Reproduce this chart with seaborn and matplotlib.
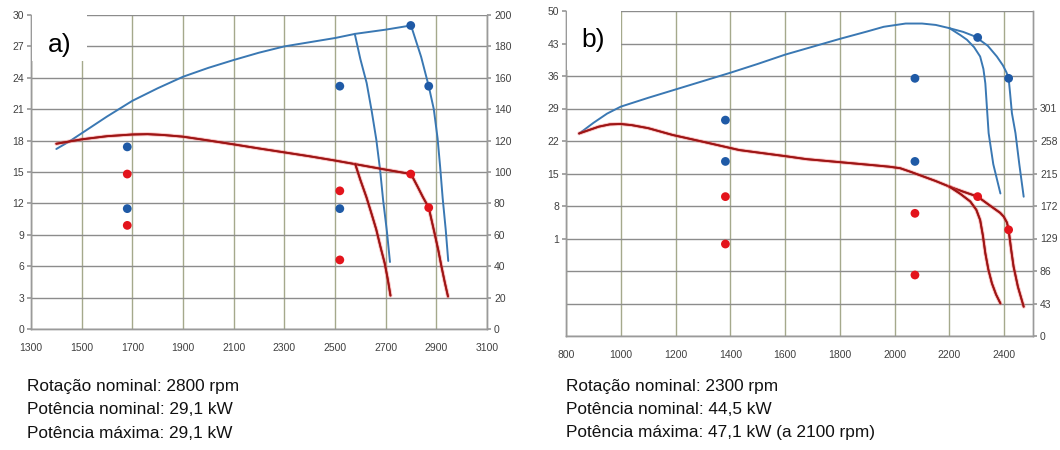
import matplotlib
matplotlib.use("Agg")
import matplotlib.pyplot as plt
import matplotlib.patheffects as pe
from matplotlib.patches import Rectangle
import seaborn as sns

# ---------------- data: panel a ----------------
a_pow_rpm = [1400, 1450, 1500, 1600, 1700, 1800, 1900, 2000, 2100, 2200, 2300, 2400, 2500, 2580, 2700, 2800]
a_pow_kw = [17.2, 17.9, 18.7, 20.3, 21.8, 23.0, 24.1, 24.95, 25.7, 26.4, 27.0, 27.4, 27.8, 28.2, 28.6, 29.0]
a_pow_drop1_rpm = [2800, 2840, 2870, 2890, 2905, 2915, 2925, 2937, 2947]
a_pow_drop1_kw = [29.0, 26.0, 23.2, 21.0, 18.2, 15.5, 12.5, 9.5, 6.5]
a_pow_drop2_rpm = [2578, 2600, 2625, 2645, 2663, 2678, 2690, 2705, 2717]
a_pow_drop2_kw = [28.2, 25.8, 23.5, 20.8, 18.1, 15.2, 12.3, 9.3, 6.4]

a_tq_rpm = [1400, 1500, 1600, 1700, 1760, 1820, 1900, 2000, 2100, 2200, 2300, 2400, 2500, 2580, 2700, 2800]
a_tq_nm = [118, 120.8, 122.8, 123.9, 124.1, 123.6, 122.5, 120.1, 117.6, 115.0, 112.5, 110, 107.3, 105, 101.5, 98.7]
a_tq_drop1_rpm = [2800, 2825, 2847, 2870, 2893, 2908, 2920, 2933, 2946]
a_tq_drop1_nm = [98.7, 91, 84, 77.3, 61, 50, 40, 30, 20.7]
a_tq_drop2_rpm = [2580, 2600, 2624, 2645, 2663, 2680, 2696, 2708, 2719]
a_tq_drop2_nm = [105, 95, 84, 73, 63.3, 52, 42, 32, 21.3]

a_blue_dot_rpm = [1680, 1680, 2519, 2519, 2799, 2870]
a_blue_dot_kw = [17.4, 11.5, 23.2, 11.5, 29.0, 23.2]
a_red_dot_rpm = [1680, 1680, 2519, 2519, 2799, 2870]
a_red_dot_nm = [98.7, 66, 88, 44, 98.7, 77.3]

a_xticks = [1300, 1500, 1700, 1900, 2100, 2300, 2500, 2700, 2900, 3100]
a_yticks_left = [0, 3, 6, 9, 12, 15, 18, 21, 24, 27, 30]
a_yticks_right = [0, 20, 40, 60, 80, 100, 120, 140, 160, 180, 200]

a_notes = ["Rotação nominal: 2800 rpm",
           "Potência nominal: 29,1 kW",
           "Potência máxima: 29,1 kW"]

# ---------------- data: panel b ----------------
b_pow_rpm = [848, 900, 950, 1000, 1100, 1200, 1300, 1400, 1500, 1600, 1700, 1800, 1900, 1960, 2040, 2100, 2150, 2200]
b_pow_kw = [23.6, 25.9, 27.9, 29.4, 31.3, 33.1, 34.9, 36.7, 38.6, 40.6, 42.3, 44.0, 45.6, 46.6, 47.3, 47.3, 47.0, 46.3]
b_pow_drop1_rpm = [2200, 2250, 2294, 2340, 2373, 2395, 2408, 2416, 2421, 2428, 2441, 2455, 2471]
b_pow_drop1_kw = [46.3, 45.5, 44.5, 42.5, 40.2, 38.3, 36.8, 35.5, 32.5, 28.0, 23.7, 17.0, 10.0]
b_pow_drop2_rpm = [2200, 2240, 2264, 2290, 2312, 2324, 2331, 2337, 2343, 2360, 2386]
b_pow_drop2_kw = [46.3, 44.8, 43.8, 42.2, 40.2, 37.5, 34.4, 29.0, 23.7, 17.0, 10.7]

b_tq_rpm = [848, 880, 920, 960, 1000, 1040, 1100, 1189, 1300, 1433, 1600, 1678, 1800, 1922, 1980, 2020, 2060, 2105, 2150, 2200]
b_tq_nm = [268, 272, 277, 280, 280.5, 279, 275, 266, 257, 246, 238, 234, 230, 226, 224, 222, 217, 211, 205, 197.6]
b_tq_drop1_rpm = [2200, 2250, 2303, 2350, 2385, 2398, 2410, 2416, 2425, 2434, 2450, 2471]
b_tq_drop1_nm = [197.6, 191, 184.4, 172, 163, 158, 150, 140.3, 115, 92, 65, 38.8]
b_tq_drop2_rpm = [2200, 2240, 2276, 2298, 2312, 2322, 2331, 2342, 2355, 2370, 2386]
b_tq_drop2_nm = [197.6, 188, 178, 167, 153.5, 133, 109.4, 88, 69.7, 55, 43.2]

b_blue_dot_rpm = [1382, 1382, 2074, 2074, 2303, 2416]
b_blue_dot_kw = [26.5, 17.6, 35.5, 17.6, 44.3, 35.5]
b_red_dot_rpm = [1382, 1382, 2074, 2074, 2303, 2416]
b_red_dot_nm = [184.4, 121.7, 162.3, 80.7, 184.4, 140.5]

b_xticks = [800, 1000, 1200, 1400, 1600, 1800, 2000, 2200, 2400]
b_yticks_left = [-20, -13, -6, 1, 8, 15, 22, 29, 36, 43, 50]
b_yticklabels_left = ["", "", "", "1", "8", "15", "22", "29", "36", "43", "50"]
b_yticks_right = [0, 43, 86, 129, 172, 215, 258, 301]

b_notes = ["Rotação nominal: 2300 rpm",
           "Potência nominal: 44,5 kW",
           "Potência máxima: 47,1 kW (a 2100 rpm)"]

# ---------------- style ----------------
sns.set_theme(style="white")
plt.rcParams['font.family'] = ['Liberation Sans', 'DejaVu Sans']

BLUE = "#3a78b3"
RED = "#9e1515"
BLUE_DOT = "#1f5aa6"
RED_DOT = "#e3141c"
HGRID = "#8c8c8c"
VGRID = "#a5a98c"
TICK = "#404040"

fig = plt.figure(figsize=(10.6, 4.5), dpi=100)
fig.patch.set_facecolor("white")

glow = [pe.withStroke(linewidth=2.8, foreground="#f06060", alpha=0.4), pe.Normal()]


def style_axes(ax, ax2, xlim, ylim, ylim2, xticks, yticks, yticklabels, yticks2):
    ax.set_xlim(*xlim)
    ax.set_ylim(*ylim)
    ax2.set_ylim(*ylim2)
    ax.set_xticks(xticks)
    ax.set_xticklabels([str(t) for t in xticks])
    ax.set_yticks(yticks)
    ax.set_yticklabels(yticklabels)
    ax2.set_yticks(yticks2)
    ax2.set_yticklabels([str(t) for t in yticks2])
    ax.xaxis.grid(True, color=VGRID, lw=1.0)
    ax.yaxis.grid(True, color=HGRID, lw=1.0)
    ax2.grid(False)
    for a in (ax, ax2):
        a.spines["top"].set_visible(False)
        for s in ("left", "right", "bottom"):
            a.spines[s].set_color("#9a9a9a")
            a.spines[s].set_linewidth(1.0)
        a.tick_params(axis="both", labelsize=7.5, labelcolor=TICK, colors="#9a9a9a")
    ax.tick_params(axis="y", left=True, length=3, pad=2, labelcolor=TICK)
    ax.tick_params(axis="x", bottom=False, pad=4, labelcolor=TICK)
    ax2.tick_params(axis="y", right=True, length=3, pad=2, labelcolor=TICK)
    for tick, lab in zip(ax.yaxis.get_major_ticks(), yticklabels):
        if lab == "":
            tick.tick1line.set_visible(False)
    ax.set_xlabel("")
    ax.set_ylabel("")
    ax2.set_ylabel("")


def draw_lines(ax, ax2, power, torque, bdots, rdots):
    for xs, ys in power:
        sns.lineplot(x=xs, y=ys, ax=ax, color=BLUE, lw=1.4, sort=False, estimator=None)
    for xs, ys in torque:
        sns.lineplot(x=xs, y=ys, ax=ax2, color=RED, lw=1.3, sort=False, estimator=None)
    for line in ax2.get_lines():
        line.set_path_effects(glow)
        line.set_solid_joinstyle("round")
    for line in ax.get_lines():
        line.set_solid_joinstyle("round")
    sns.scatterplot(x=bdots[0], y=bdots[1], ax=ax, color=BLUE_DOT, s=40, edgecolor="none", zorder=5)
    sns.scatterplot(x=rdots[0], y=rdots[1], ax=ax2, color=RED_DOT, s=40, edgecolor="none", zorder=5)


# ---------------- panel a ----------------
axa = fig.add_axes([31 / 1060, 1 - 329 / 450, 456 / 1060, 314 / 450])
axa2 = axa.twinx()
draw_lines(axa, axa2,
           [(a_pow_rpm, a_pow_kw), (a_pow_drop1_rpm, a_pow_drop1_kw), (a_pow_drop2_rpm, a_pow_drop2_kw)],
           [(a_tq_rpm, a_tq_nm), (a_tq_drop1_rpm, a_tq_drop1_nm), (a_tq_drop2_rpm, a_tq_drop2_nm)],
           (a_blue_dot_rpm, a_blue_dot_kw), (a_red_dot_rpm, a_red_dot_nm))
style_axes(axa, axa2, (1300, 3100), (0, 30), (0, 200), a_xticks,
           a_yticks_left, [str(t) for t in a_yticks_left], a_yticks_right)
axa2.add_patch(Rectangle((0.002, 0.855), 0.121, 0.15, transform=axa.transAxes,
                         facecolor="white", edgecolor="none", zorder=10, clip_on=False))
axa2.text(0.062, 0.905, "a)", transform=axa.transAxes, fontsize=19, ha="center",
          va="center", color="black", zorder=11)

# ---------------- panel b ----------------
axb = fig.add_axes([566 / 1060, 1 - 336 / 450, 467 / 1060, 325 / 450])
axb2 = axb.twinx()
draw_lines(axb, axb2,
           [(b_pow_rpm, b_pow_kw), (b_pow_drop1_rpm, b_pow_drop1_kw), (b_pow_drop2_rpm, b_pow_drop2_kw)],
           [(b_tq_rpm, b_tq_nm), (b_tq_drop1_rpm, b_tq_drop1_nm), (b_tq_drop2_rpm, b_tq_drop2_nm)],
           (b_blue_dot_rpm, b_blue_dot_kw), (b_red_dot_rpm, b_red_dot_nm))
style_axes(axb, axb2, (800, 2505), (-20, 50), (0, 430), b_xticks,
           b_yticks_left, b_yticklabels_left, b_yticks_right)
axb2.add_patch(Rectangle((0.002, 0.82), 0.115, 0.185, transform=axb.transAxes,
                         facecolor="white", edgecolor="none", zorder=10, clip_on=False))
axb2.text(0.058, 0.91, "b)", transform=axb.transAxes, fontsize=19, ha="center",
          va="center", color="black", zorder=11)

# ---------------- notes ----------------
for i, (ta, tb) in enumerate(zip(a_notes, b_notes)):
    y = 1 - (386 + i * 23.5) / 450
    fig.text(27 / 1060, y, ta, fontsize=12.4, ha="left", va="center", color="#111111")
    fig.text(566 / 1060, y, tb, fontsize=12.4, ha="left", va="center", color="#111111")

fig.savefig("out.png", dpi=100, facecolor="white")
